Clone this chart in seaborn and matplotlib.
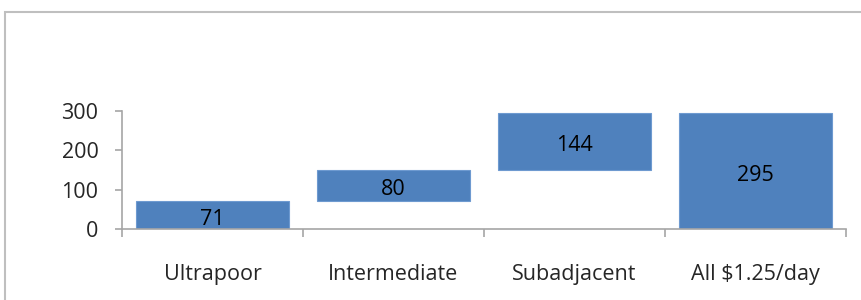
import seaborn as sns
import matplotlib.pyplot as plt
import pandas as pd
from matplotlib.patches import Rectangle
from matplotlib.ticker import FixedLocator

categorias = ['Ultrapoor', 'Intermediate', 'Subadjacent', 'All $1.25/day']
valores = [71, 80, 144, 295]
bases = [0, 71, 151, 0]
yticks = [0, 100, 200, 300]

df = pd.DataFrame({'Categoria': categorias, 'Valor': valores})

sns.set_style('white')
plt.rcParams['font.family'] = ['Open Sans', 'DejaVu Sans']

fig = plt.figure(figsize=(8.62, 3.0), dpi=100)
ax = fig.add_axes([122 / 862, 1 - 229 / 300, 724 / 862, 118 / 300])

# Marco gris alrededor del gráfico
fig.patches.append(Rectangle((5 / 862, -0.2), 1.2, 1.2 - 12 / 300,
                             transform=fig.transFigure, fill=False,
                             edgecolor='#BFBFBF', linewidth=1.5))

# Barras tipo cascada
sns.barplot(data=df, x='Categoria', y='Valor', bottom=bases, color='#4F81BD',
            saturation=1, width=0.85, edgecolor='#6E9AD0', linewidth=0.8, ax=ax)

# Etiquetas de valor centradas en cada barra
for i, (v, b) in enumerate(zip(valores, bases)):
    ax.annotate(str(v), (i, b + v / 2), xytext=(0, -3), textcoords='offset points',
                ha='center', va='center', fontsize=15.5, color='black')

ax.set_ylim(0, 300)
ax.set_xlim(-0.5, 3.5)
ax.set_yticks(yticks)
ax.set_xlabel('')
ax.set_ylabel('')

sns.despine(ax=ax)
for s in ['left', 'bottom']:
    ax.spines[s].set_color('#A6A6A6')
    ax.spines[s].set_linewidth(1.2)

ax.tick_params(axis='y', length=5, width=1.2, color='#A6A6A6', pad=12, labelsize=15.5, left=True)
ax.tick_params(axis='x', which='major', length=0, pad=25.5, labelsize=15.5)
ax.xaxis.set_minor_locator(FixedLocator([-0.5, 0.5, 1.5, 2.5, 3.5]))
ax.tick_params(axis='x', which='minor', length=6, width=1.2, color='#A6A6A6', bottom=True)

fig.savefig('out.png', dpi=100)
